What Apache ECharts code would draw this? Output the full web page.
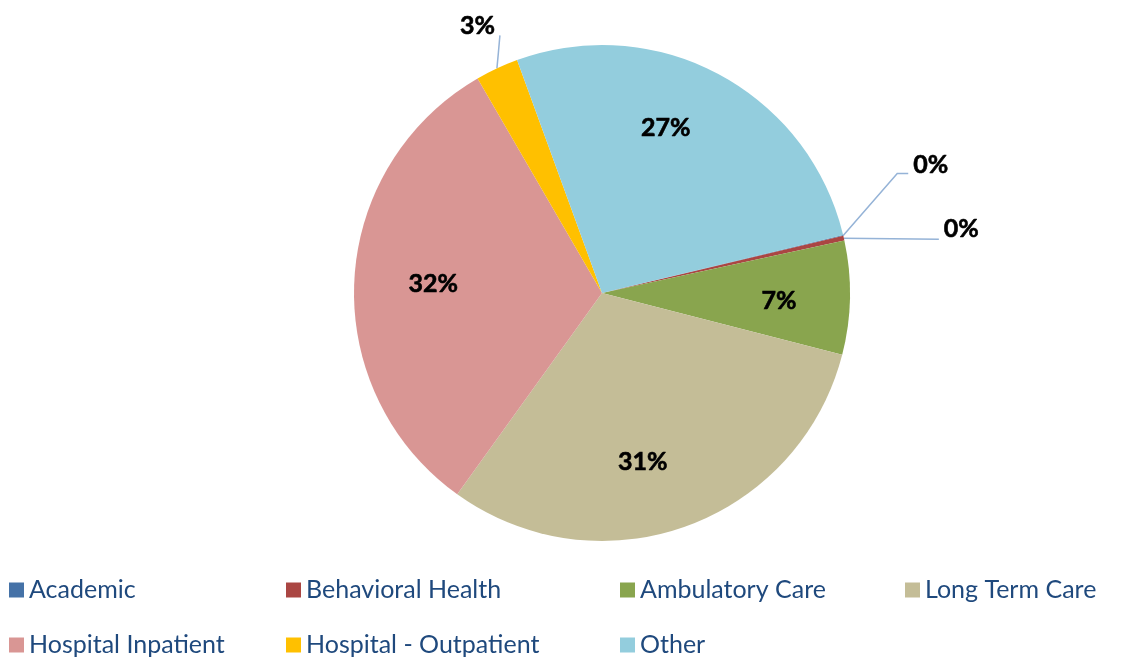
<!DOCTYPE html>
<html>
<head>
<meta charset="utf-8">
<script src="https://cdn.jsdelivr.net/npm/echarts@6/dist/echarts.min.js"></script>
<style>
html,body{margin:0;padding:0;background:#fff;}
#chart{width:1143px;height:658px;}
</style>
</head>
<body>
<div id="chart"></div>
<script>
const categories = ['Academic', 'Behavioral Health', 'Ambulatory Care', 'Long Term Care', 'Hospital Inpatient', 'Hospital - Outpatient', 'Other'];
const values = [0.05, 0.3, 7.4, 30.9, 31.7, 2.8, 26.8];
const colors = ['#4572A7', '#AA4643', '#89A54E', '#C4BD97', '#D99694', '#FFC000', '#93CDDD'];
const outsideLabels = ['Academic', 'Behavioral Health', 'Hospital - Outpatient'];
// legend grid: [column, row] for each category
const legendCells = [[0, 0], [1, 0], [2, 0], [3, 0], [0, 1], [1, 1], [2, 1]];
const legendLeft = [9, 286, 620, 905];
const legendTop = [577, 632];
// small nudges of the inside labels (Excel best-fit placement)
const insideNudge = {'Ambulatory Care': [2, 5], 'Long Term Care': [-19, 4], 'Hospital Inpatient': [6, -1], 'Other': [-19, -11]};

const FONT = 'Lato, "Liberation Sans", sans-serif';
const center = [602, 293];
const R = 248;
const startAngle = 13.5;

const chart = echarts.init(document.getElementById('chart'), null, {renderer: 'canvas'});

const baseData = categories.map((c, i) => ({name: c, value: values[i], itemStyle: {color: colors[i]}}));
const labelData = categories.map((c, i) => {
  const outside = outsideLabels.indexOf(c) >= 0;
  return {
    name: c,
    value: values[i],
    label: {position: outside ? 'outside' : 'inside'},
    labelLine: {show: outside}
  };
});

const legends = categories.map((c, i) => ({
  orient: 'horizontal',
  left: legendLeft[legendCells[i][0]],
  top: legendTop[legendCells[i][1]],
  padding: 0,
  icon: 'rect',
  itemWidth: 15,
  itemHeight: 15,
  itemTextGap: 6,
  selectedMode: false,
  data: [{name: c, itemStyle: {color: colors[i]}}],
  textStyle: {fontFamily: FONT, fontSize: 25, color: '#1F497D', lineHeight: 26}
}));

chart.setOption({
  animation: false,
  backgroundColor: '#ffffff',
  legend: legends,
  series: [
    {
      type: 'pie',
      center: center,
      radius: R,
      startAngle: startAngle,
      clockwise: true,
      silent: true,
      label: {show: false},
      labelLine: {show: false},
      itemStyle: {borderWidth: 0},
      data: baseData
    },
    {
      type: 'pie',
      center: center,
      radius: [96, R],
      startAngle: startAngle,
      clockwise: true,
      silent: true,
      avoidLabelOverlap: false,
      itemStyle: {color: 'rgba(0,0,0,0)', borderWidth: 0},
      label: {
        show: true,
        fontFamily: FONT,
        fontWeight: 'bold',
        fontSize: 25,
        color: '#000',
        textBorderColor: '#000',
        textBorderWidth: 0.6,
        formatter: p => Math.round(p.percent) + '%'
      },
      labelLine: {
        show: false,
        length: 30,
        length2: 0,
        lineStyle: {color: '#95B3D7', width: 1.5}
      },
      labelLayout: function (p) {
        const name = categories[p.dataIndex];
        if (insideNudge[name]) return {dx: insideNudge[name][0], dy: insideNudge[name][1]};
        if (outsideLabels.indexOf(name) < 0 || !p.labelLinePoints) return {};
        const s = p.labelLinePoints[0];
        if (name === 'Academic') {
          return {
            x: s[0] + 70, y: s[1] - 71, align: 'left', verticalAlign: 'middle',
            labelLinePoints: [[s[0], s[1]], [s[0] + 54, s[1] - 62], [s[0] + 65, s[1] - 62]]
          };
        }
        if (name === 'Behavioral Health') {
          return {
            x: s[0] + 100, y: s[1] - 9, align: 'left', verticalAlign: 'middle',
            labelLinePoints: [[s[0], s[1]], [s[0] + 48, s[1] + 0.5], [s[0] + 95, s[1] + 1]]
          };
        }
        // Hospital - Outpatient
        return {
          x: s[0] - 2, y: s[1] - 42, align: 'right', verticalAlign: 'middle',
          labelLinePoints: [[s[0], s[1]], [s[0] + 1.5, s[1] - 16], [s[0] + 3, s[1] - 33]]
        };
      },
      data: labelData
    }
  ]
});
</script>
</body>
</html>
